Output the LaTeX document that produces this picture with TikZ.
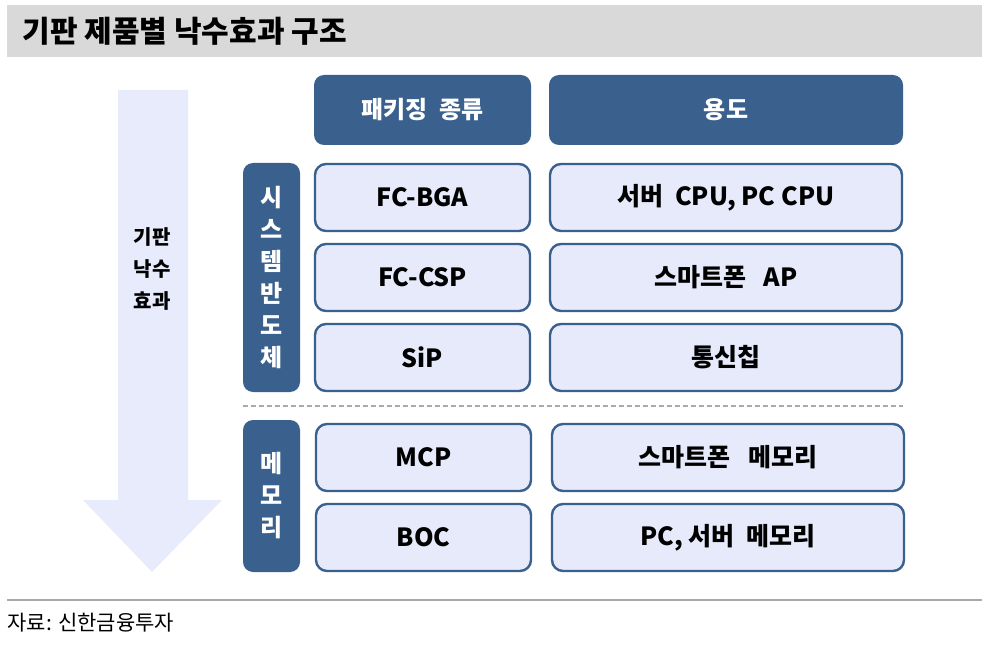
\documentclass[tikz,border=0pt]{standalone}
\usepackage{fontspec}
\setmainfont{Noto Sans CJK KR}
\definecolor{hdBlue}{RGB}{58, 96, 142}
\definecolor{cellFill}{RGB}{230, 234, 251}
\definecolor{arrowFill}{RGB}{231, 235, 252}
\definecolor{titleGray}{RGB}{217, 217, 217}
\definecolor{ruleGray}{RGB}{170, 170, 170}
\usetikzlibrary{positioning}

\begin{document}
\begin{tikzpicture}[
    x=1pt, y=-1pt,
    headbox/.style={rectangle, fill=hdBlue, text=white, rounded corners=10pt,
                    minimum height=70pt, inner sep=0pt,
                    font=\fontsize{24}{28}\selectfont\bfseries},
    cellbox/.style={rectangle, draw=hdBlue, fill=cellFill, line width=2.4pt,
                    rounded corners=11pt, minimum height=67pt, inner sep=0pt,
                    font=\fontsize{25}{28}\selectfont\bfseries},
    sidebox/.style={rectangle, fill=hdBlue, text=white, rounded corners=10pt,
                    minimum width=57pt, inner sep=0pt, align=center,
                    font=\fontsize{24}{32}\selectfont\bfseries},
  ]
    \useasboundingbox (0,0) rectangle (986,650);

    % title
    \fill[titleGray] (7,5) rectangle (982,57);
    \node[anchor=west, font=\fontsize{30}{32}\selectfont\bfseries] (title) at (19,31) {기판 제품별 낙수효과 구조};

    % downward arrow
    \fill[arrowFill] (118,90) -- (188,90) -- (188,500) -- (222,500) -- (152,572)
      -- (83,500) -- (118,500) -- cycle;
    \node[align=center, font=\fontsize{20}{32}\selectfont\bfseries] (flow) at (152,269) {기판\\낙수\\효과};

    % header
    \node[headbox, minimum width=217pt] (PKG) at (422.5,110) {패키징\ \ 종류};
    \node[headbox, minimum width=354pt] (USE) at (726,110) {용도};

    % system semiconductor
    \node[sidebox, minimum height=229pt] (SYS) at (271.5,277.5) {시\\스\\템\\반\\도\\체};
    \node[cellbox, minimum width=215pt] (FCBGA) at (422.5,197.5) {FC-BGA};
    \node[cellbox, minimum width=352pt] (CPU) at (726,197.5) {서버\ \ CPU, PC CPU};
    \node[cellbox, minimum width=215pt] (FCCSP) at (422.5,277.5) {FC-CSP};
    \node[cellbox, minimum width=352pt] (AP) at (726,277.5) {스마트폰\ \ \ AP};
    \node[cellbox, minimum width=215pt] (SIP) at (422.5,357.5) {SiP};
    \node[cellbox, minimum width=352pt] (COMM) at (726,357.5) {통신칩};

    % separator
    \coordinate (sepL) at (243,406);
    \coordinate (sepR) at (903,406);
    \draw[ruleGray, line width=1.6pt, dash pattern=on 5pt off 3pt] (sepL) -- (sepR);

    % memory
    \node[sidebox, minimum height=152pt] (MEM) at (271.5,496) {메\\모\\리};
    \node[cellbox, minimum width=215pt] (MCP) at (423.5,457.5) {MCP};
    \node[cellbox, minimum width=352pt] (MOB) at (728,457.5) {스마트폰\ \ \ 메모리};
    \node[cellbox, minimum width=215pt] (BOC) at (423.5,537.5) {BOC};
    \node[cellbox, minimum width=352pt] (SRV) at (728,537.5) {PC, 서버\ \ 메모리};

    % source
    \coordinate (srcL) at (7,600);
    \coordinate (srcR) at (982,600);
    \draw[ruleGray, line width=1.2pt] (srcL) -- (srcR);
    \node[anchor=west, font=\fontsize{21}{24}\selectfont] (src) at (4,623) {자료: 신한금융투자};
  \end{tikzpicture}
\end{document}
